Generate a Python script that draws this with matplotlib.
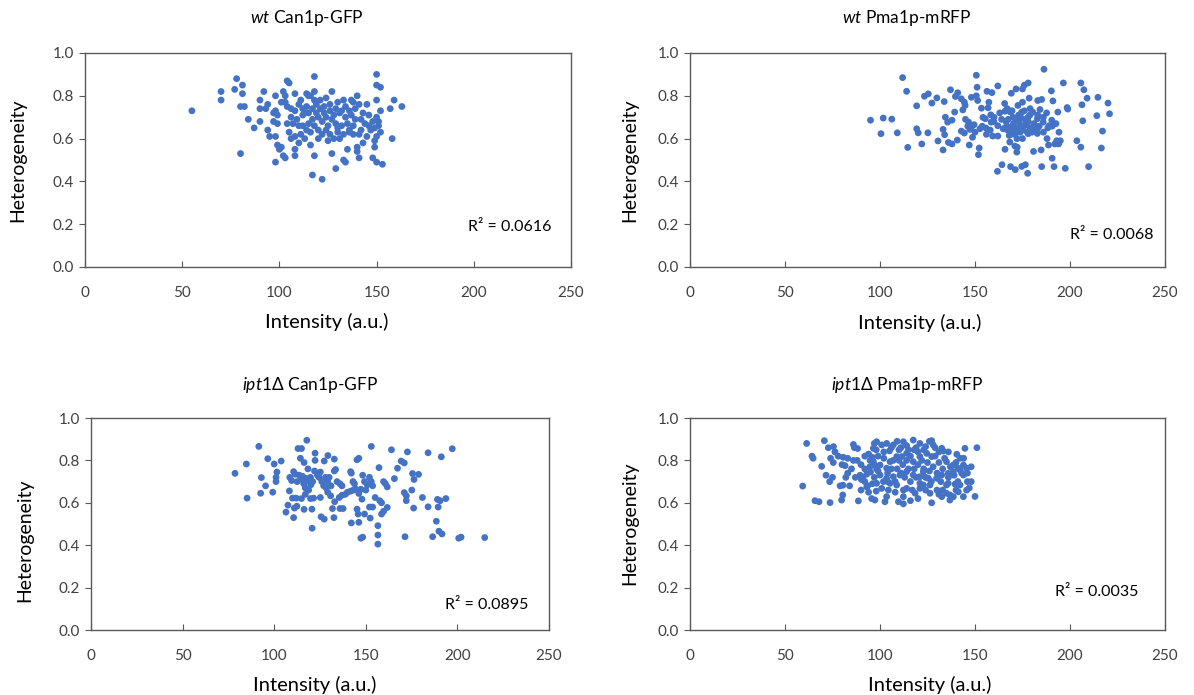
import numpy as np
import matplotlib
matplotlib.use("Agg")
import matplotlib.pyplot as plt

plt.rcParams["font.family"] = ["Lato", "DejaVu Sans"]
plt.rcParams["mathtext.fontset"] = "custom"
plt.rcParams["mathtext.rm"] = "Lato"
plt.rcParams["mathtext.it"] = "Lato:italic"

# (intensity, heterogeneity) per cell
wt_can1 = np.array([
    [55, 0.73], [70, 0.82], [70, 0.78], [78, 0.88], [77, 0.83], [81, 0.85], [81, 0.81],
    [80, 0.75], [82, 0.75], [80, 0.53], [84, 0.69], [87, 0.65], [90, 0.68], [90, 0.78],
    [92, 0.82], [90, 0.74], [93, 0.74], [94, 0.76], [94, 0.64], [95, 0.61], [98, 0.80],
    [98, 0.73], [97, 0.72], [99, 0.71], [97, 0.68], [99, 0.67], [98, 0.61], [99, 0.57],
    [101, 0.56], [100, 0.55], [98, 0.49], [102, 0.52], [103, 0.51], [108, 0.55], [108, 0.52],
    [104, 0.87], [105, 0.86], [102, 0.82], [103, 0.80], [101, 0.77], [103, 0.77], [108, 0.81],
    [111, 0.78], [104, 0.75], [106, 0.74], [108, 0.73], [110, 0.76], [112, 0.74], [114, 0.75],
    [113, 0.72], [104, 0.67], [107, 0.67], [110, 0.66], [112, 0.66], [115, 0.67], [105, 0.63],
    [108, 0.61], [111, 0.62], [113, 0.60], [116, 0.63], [115, 0.80],
    [118, 0.89], [150, 0.90], [150, 0.85], [152, 0.84], [114, 0.81], [116, 0.80], [118, 0.82],
    [127, 0.82], [130, 0.77], [133, 0.78], [137, 0.78], [140, 0.80], [141, 0.76], [138, 0.77],
    [145, 0.76], [143, 0.72], [146, 0.71], [150, 0.70], [150, 0.78], [159, 0.78], [157, 0.74],
    [163, 0.75], [117, 0.74], [119, 0.72], [120, 0.70], [121, 0.74], [122, 0.68], [123, 0.72],
    [124, 0.70], [125, 0.66], [126, 0.73], [127, 0.69], [128, 0.71], [129, 0.67], [130, 0.65],
    [131, 0.72], [118, 0.66], [120, 0.64], [122, 0.62], [124, 0.64], [126, 0.62], [128, 0.60],
    [130, 0.63], [132, 0.66], [117, 0.69], [119, 0.76], [123, 0.75], [126, 0.76], [129, 0.74],
    [132, 0.73], [134, 0.70], [135, 0.67], [136, 0.64], [137, 0.71], [139, 0.69], [148, 0.68],
    [151, 0.68], [149, 0.65], [136, 0.63], [138, 0.62], [141, 0.62], [142, 0.64], [145, 0.61],
    [149, 0.59], [150, 0.61], [158, 0.60], [143, 0.58], [135, 0.55], [140, 0.54], [140, 0.56],
    [149, 0.56], [116, 0.57], [127, 0.53], [118, 0.52], [141, 0.51], [148, 0.51], [150, 0.49],
    [153, 0.48], [133, 0.50], [134, 0.49], [129, 0.46], [117, 0.43], [122, 0.41],
    [106, 0.70], [109, 0.69], [112, 0.71], [115, 0.72], [118, 0.78], [121, 0.78], [124, 0.79],
    [134, 0.75], [136, 0.73], [139, 0.74], [142, 0.69], [144, 0.67], [146, 0.66], [147, 0.64],
    [138, 0.66], [133, 0.62], [131, 0.60], [125, 0.59], [120, 0.60], [114, 0.64], [110, 0.58],
    [106, 0.60], [152, 0.73], [151, 0.66], [152, 0.63],
])

wt_pma1 = np.array([
    [95.0, 0.686], [100.5, 0.623], [101.7, 0.696], [106.2, 0.691], [109.1, 0.627], [111.9, 0.885],
    [114.0, 0.821], [114.6, 0.559], [119.3, 0.753], [119.3, 0.646], [120.1, 0.627], [122.0, 0.575],
    [123.4, 0.798], [125.4, 0.809], [125.2, 0.627], [127.3, 0.766], [129.9, 0.790], [130.5, 0.589],
    [133.8, 0.773], [133.2, 0.643], [134.0, 0.618], [133.2, 0.547], [134.4, 0.700], [135.6, 0.677],
    [137.1, 0.828], [136.0, 0.582], [137.9, 0.686], [137.9, 0.575], [139.7, 0.797], [140.9, 0.814],
    [139.3, 0.724], [140.7, 0.593], [142.8, 0.786], [144.4, 0.770], [143.6, 0.734], [144.8, 0.755],
    [142.8, 0.635], [144.4, 0.626], [146.2, 0.658], [147.3, 0.643], [146.6, 0.677], [147.0, 0.570],
    [148.3, 0.657], [149.5, 0.665], [148.1, 0.793], [148.7, 0.606], [150.7, 0.896], [151.1, 0.840],
    [150.7, 0.800], [151.4, 0.778], [151.8, 0.525], [152.2, 0.556], [152.6, 0.646], [153.8, 0.658],
    [153.4, 0.742], [154.2, 0.699], [155.4, 0.693], [155.8, 0.649], [156.3, 0.821], [156.9, 0.744],
    [157.3, 0.770], [158.3, 0.711], [158.5, 0.677], [158.9, 0.815], [159.3, 0.612], [159.9, 0.680],
    [162.0, 0.846], [162.0, 0.612], [161.8, 0.447], [164.2, 0.478], [164.8, 0.646], [165.6, 0.764],
    [165.8, 0.728], [165.8, 0.550], [166.3, 0.680], [166.7, 0.660], [167.1, 0.640], [168.0, 0.615],
    [168.3, 0.584], [169.1, 0.812], [168.7, 0.469], [169.5, 0.730], [170.0, 0.700], [170.3, 0.670],
    [170.6, 0.640], [171.0, 0.565], [171.2, 0.455], [171.6, 0.832], [172.0, 0.537], [172.2, 0.560],
    [172.1, 0.600], [172.6, 0.755], [173.0, 0.710], [173.4, 0.680], [173.9, 0.660], [173.7, 0.630],
    [174.6, 0.724], [175.0, 0.770], [175.0, 0.832], [176.0, 0.850], [178.0, 0.860], [175.0, 0.640],
    [176.0, 0.660], [177.0, 0.670], [174.6, 0.470], [176.5, 0.478], [177.7, 0.438], [177.9, 0.700],
    [178.9, 0.710], [178.5, 0.789], [178.0, 0.623], [180.0, 0.630], [181.4, 0.645], [182.4, 0.658],
    [180.4, 0.724], [180.8, 0.540], [182.8, 0.646], [183.8, 0.658], [182.8, 0.693], [183.0, 0.778],
    [185.1, 0.783], [182.8, 0.624], [184.2, 0.736], [184.8, 0.547], [185.1, 0.469], [186.3, 0.924],
    [185.9, 0.677], [187.7, 0.720], [188.3, 0.650], [187.9, 0.600], [188.7, 0.570], [190.2, 0.823],
    [190.4, 0.686], [190.6, 0.658], [190.6, 0.508], [191.0, 0.776], [191.6, 0.469], [192.6, 0.670],
    [193.6, 0.724], [192.0, 0.575], [193.0, 0.590], [194.0, 0.575], [194.9, 0.590], [194.2, 0.630],
    [197.5, 0.461], [196.5, 0.860], [198.5, 0.745], [198.8, 0.738], [203.6, 0.590], [205.7, 0.860],
    [205.7, 0.560], [206.3, 0.758], [206.7, 0.683], [207.3, 0.828], [209.0, 0.789], [209.8, 0.469],
    [214.1, 0.707], [214.7, 0.793], [216.5, 0.556], [217.1, 0.635], [220.0, 0.766], [220.8, 0.716],
    [167.5, 0.690], [169.0, 0.655], [171.5, 0.690], [174.0, 0.700], [176.5, 0.690], [168.5, 0.725],
    [171.0, 0.620], [174.5, 0.650], [179.0, 0.650], [177.5, 0.630],
    [160.0, 0.700], [162.0, 0.660], [163.0, 0.720], [164.0, 0.690], [167.0, 0.740], [169.0, 0.620],
    [172.0, 0.650], [175.0, 0.600], [176.0, 0.730], [178.0, 0.680], [179.0, 0.740], [181.0, 0.670],
    [183.0, 0.710], [186.0, 0.630], [186.0, 0.700], [189.0, 0.660], [158.0, 0.640], [156.0, 0.620],
    [150.0, 0.630], [145.0, 0.690],
])

ipt1_can1 = np.array([
    [78.6, 0.739], [84.8, 0.783], [85.2, 0.622], [91.6, 0.866], [93.0, 0.719], [92.6, 0.645],
    [95.3, 0.680], [96.5, 0.808], [99.2, 0.650], [100.0, 0.783], [101.0, 0.700], [101.0, 0.720],
    [101.5, 0.745], [103.8, 0.797], [106.4, 0.556], [107.5, 0.589], [108.3, 0.656], [108.5, 0.720],
    [109.5, 0.705], [110.6, 0.747], [110.0, 0.622], [112.0, 0.622], [110.6, 0.530], [111.0, 0.575],
    [112.4, 0.584], [113.0, 0.856], [114.9, 0.856], [114.3, 0.810], [116.3, 0.790], [113.7, 0.730],
    [114.9, 0.710], [116.1, 0.690], [117.0, 0.670], [114.9, 0.620], [117.0, 0.640], [116.3, 0.569],
    [117.8, 0.895], [118.4, 0.760], [119.2, 0.700], [118.8, 0.660], [119.8, 0.720], [119.8, 0.620],
    [120.6, 0.570], [121.5, 0.622], [120.7, 0.480], [122.3, 0.834], [122.3, 0.800], [122.0, 0.750],
    [123.6, 0.730], [125.2, 0.745], [126.0, 0.700], [125.2, 0.625], [125.6, 0.534], [127.3, 0.523],
    [127.3, 0.797], [128.0, 0.720], [129.2, 0.700], [128.4, 0.670], [129.2, 0.650], [129.3, 0.823],
    [130.8, 0.633], [131.8, 0.573], [132.6, 0.530], [132.8, 0.806], [132.8, 0.750], [133.5, 0.757],
    [133.0, 0.605], [134.3, 0.700], [135.9, 0.690], [137.0, 0.680], [135.5, 0.625], [137.0, 0.636],
    [135.9, 0.573], [137.6, 0.573], [138.8, 0.640], [140.0, 0.650], [141.7, 0.655], [143.2, 0.660],
    [144.6, 0.664], [141.7, 0.747], [142.1, 0.740], [142.1, 0.505], [143.0, 0.700], [143.8, 0.690],
    [145.2, 0.803], [146.2, 0.810], [145.2, 0.570], [145.8, 0.547], [146.2, 0.644], [147.3, 0.664],
    [146.2, 0.508], [147.3, 0.433], [148.3, 0.438], [147.9, 0.617], [148.3, 0.730], [149.3, 0.700],
    [150.0, 0.660], [150.8, 0.685], [149.3, 0.547], [152.0, 0.720], [153.0, 0.700], [153.7, 0.680],
    [152.4, 0.528], [153.0, 0.866], [152.0, 0.580], [153.7, 0.580], [155.1, 0.625], [156.6, 0.492],
    [156.6, 0.448], [156.6, 0.405], [157.2, 0.766], [157.6, 0.610], [158.6, 0.600], [158.6, 0.547],
    [159.7, 0.560], [159.7, 0.700], [160.7, 0.690], [161.7, 0.675], [161.7, 0.578], [164.0, 0.850],
    [165.6, 0.714], [167.3, 0.763], [169.3, 0.797], [171.0, 0.788], [171.0, 0.648], [172.1, 0.633],
    [172.1, 0.610], [171.4, 0.440], [172.7, 0.840], [175.1, 0.660], [175.5, 0.738], [176.3, 0.710],
    [176.1, 0.575], [178.8, 0.734], [180.9, 0.625], [184.0, 0.836], [184.0, 0.581], [186.5, 0.440],
    [188.5, 0.513], [189.1, 0.616], [189.5, 0.580], [189.9, 0.466], [191.2, 0.817], [191.6, 0.453],
    [193.7, 0.620], [197.2, 0.855], [200.7, 0.433], [202.0, 0.438], [214.9, 0.436], [190.6, 0.610],
    [111.5, 0.735], [112.5, 0.700], [115.5, 0.725], [117.5, 0.715], [120.0, 0.685], [121.0, 0.700],
    [124.5, 0.720], [127.0, 0.680], [130.0, 0.720], [131.0, 0.680],
])

ipt1_pma1 = np.array([
    [61.4, 0.880], [70.7, 0.893], [59.3, 0.679], [64.2, 0.820], [64.8, 0.810], [69.3, 0.772],
    [72.8, 0.860], [75.5, 0.865], [76.3, 0.840], [74.0, 0.810], [75.4, 0.790], [71.6, 0.730],
    [73.5, 0.700], [75.0, 0.720], [65.8, 0.610], [67.9, 0.605], [73.7, 0.601], [79.8, 0.613],
    [79.0, 0.680], [80.5, 0.683], [80.4, 0.637], [78.0, 0.820], [80.6, 0.815], [83.0, 0.810],
    [80.0, 0.780], [81.6, 0.775], [86.0, 0.875], [86.5, 0.860], [88.2, 0.856], [88.6, 0.609],
    [89.5, 0.730], [91.0, 0.720], [90.2, 0.710], [92.0, 0.820], [94.0, 0.830], [94.8, 0.800],
    [96.0, 0.815], [92.0, 0.700], [93.5, 0.680], [93.0, 0.675], [95.6, 0.620], [94.7, 0.770],
    [97.0, 0.780], [98.2, 0.760], [97.0, 0.880], [98.0, 0.850],
    [98.2, 0.888], [100.9, 0.873], [96.5, 0.857], [107.0, 0.873], [112.3, 0.888], [117.5, 0.896],
    [127.2, 0.893], [128.0, 0.873], [132.5, 0.857], [133.3, 0.844], [140.4, 0.829], [142.1, 0.810],
    [144.7, 0.857],
    [96.5, 0.794], [100.0, 0.778], [103.5, 0.763], [105.3, 0.794], [108.8, 0.818], [111.4, 0.818],
    [114.0, 0.833], [117.5, 0.794], [121.0, 0.818], [124.6, 0.833], [127.2, 0.818],
    [135.0, 0.794], [138.6, 0.778], [141.2, 0.763], [143.9, 0.778], [145.6, 0.763],
    [100.0, 0.731], [103.5, 0.716], [107.0, 0.723], [110.5, 0.731], [114.0, 0.747], [117.5, 0.731],
    [121.0, 0.723], [122.8, 0.747], [125.4, 0.716],
    [129.8, 0.716], [132.5, 0.731], [135.9, 0.739], [138.6, 0.747], [142.1, 0.755], [143.9, 0.731],
    [98.2, 0.692], [101.8, 0.700], [105.3, 0.692], [108.8, 0.684],
    [121.0, 0.692], [122.8, 0.684], [126.3, 0.684],
    [135.0, 0.684], [135.9, 0.692], [139.5, 0.688], [142.1, 0.684],
    [100.9, 0.668], [104.4, 0.660], [112.3, 0.660], [114.0, 0.668], [121.0, 0.668],
    [103.5, 0.629], [112.3, 0.629], [118.5, 0.645], [126.3, 0.645], [135.0, 0.645], [138.6, 0.629],
    [141.2, 0.652], [145.6, 0.660], [132.5, 0.629], [136.8, 0.637], [143.9, 0.629],
    [97.3, 0.613], [102.6, 0.605], [109.7, 0.605], [127.2, 0.600], [136.8, 0.613], [112.3, 0.595],
    [151.0, 0.860], [150.0, 0.630], [148.0, 0.700], [147.0, 0.670], [146.0, 0.740], [148.0, 0.770],
    [88.0, 0.800], [90.0, 0.780], [92.0, 0.760], [95.0, 0.745], [97.0, 0.720], [93.0, 0.735],
    [96.0, 0.690], [98.0, 0.655], [94.0, 0.650], [90.0, 0.660], [87.0, 0.720],
    [103.5, 0.880], [109.0, 0.890], [114.0, 0.870], [119.0, 0.860], [121.0, 0.880], [124.0, 0.865],
    [126.0, 0.890], [118.0, 0.850], [110.0, 0.850], [105.0, 0.845],
    [99.0, 0.750], [102.0, 0.810], [104.0, 0.740], [106.0, 0.760], [107.0, 0.800], [108.0, 0.700],
    [109.0, 0.760], [110.0, 0.800], [111.0, 0.740], [112.0, 0.780], [113.0, 0.720], [114.0, 0.800],
    [115.0, 0.760], [116.0, 0.700], [116.0, 0.820], [118.0, 0.760], [119.0, 0.720], [120.0, 0.780],
    [120.0, 0.840], [122.0, 0.800], [123.0, 0.760], [124.0, 0.720], [125.0, 0.790], [126.0, 0.750],
    [127.0, 0.700], [128.0, 0.770], [129.0, 0.820], [130.0, 0.740], [131.0, 0.790], [132.0, 0.700],
    [133.0, 0.760], [134.0, 0.810], [136.0, 0.720], [137.0, 0.770], [139.0, 0.730], [140.0, 0.790],
    [141.0, 0.700], [143.0, 0.740], [144.0, 0.810], [146.0, 0.700], [102.0, 0.840], [106.0, 0.860],
    [111.0, 0.860], [115.0, 0.850], [123.0, 0.850], [129.0, 0.860], [131.0, 0.840], [136.0, 0.840],
    [99.0, 0.820], [104.0, 0.700], [108.0, 0.650], [117.0, 0.660], [124.0, 0.660], [130.0, 0.660],
    [133.0, 0.660], [116.0, 0.610], [120.0, 0.620], [131.0, 0.640], [140.0, 0.660], [85.0, 0.760],
    [83.0, 0.740], [86.0, 0.800], [82.0, 0.720], [84.0, 0.680],
])

titles = [r"$\mathit{wt}$ Can1p-GFP", r"$\mathit{wt}$ Pma1p-mRFP",
          r"$\mathit{ipt1}\Delta$ Can1p-GFP", r"$\mathit{ipt1}\Delta$ Pma1p-mRFP"]
r_squared = ["0.0616", "0.0068", "0.0895", "0.0035"]
x_ticks = [0, 50, 100, 150, 200, 250]
y_ticks = [0.0, 0.2, 0.4, 0.6, 0.8, 1.0]

W, H = 1194, 695
fig = plt.figure(figsize=(W / 100, H / 100), dpi=100)


def fx(x):
    return x / W


def fy(y):
    return 1 - y / H


# panel layout in pixels: (left, right, top, bottom)
boxes = [(85, 571, 53, 267), (690, 1165, 53, 267), (91, 549, 418, 630), (690, 1165, 418, 630)]
title_pos = [(307, 18), (907, 18), (310, 385), (907, 385)]
ylabel_pos = [(18, 160), (630, 160), (25, 540), (630, 523)]
xlabel_pos = [(327, 322), (920, 323), (315, 685), (930, 685)]
r2_pos = [(510, 227), (1112, 235), (487, 605), (1097, 592)]
datasets = [wt_can1, wt_pma1, ipt1_can1, ipt1_pma1]

blue = "#4472C4"
frame = "#595959"

for i, data in enumerate(datasets):
    l, r, t, b = boxes[i]
    ax = fig.add_axes([fx(l), fy(b), (r - l) / W, (b - t) / H])
    ax.scatter(data[:, 0], data[:, 1], s=24, color=blue, edgecolors="none", zorder=3)
    ax.set_xlim(0, 250)
    ax.set_ylim(0, 1.0)
    ax.set_xticks(x_ticks)
    ax.set_yticks(y_ticks)
    ax.set_yticklabels([f"{v:.1f}" for v in y_ticks])
    for s in ax.spines.values():
        s.set_color(frame)
        s.set_linewidth(1.0)
    ax.tick_params(axis="x", direction="in", length=4, color=frame, labelsize=11,
                   pad=14, labelcolor="#404040")
    ax.tick_params(axis="y", direction="out", length=4, color=frame, labelsize=11,
                   pad=4, labelcolor="#404040")
    ax.tick_params(top=False, right=False)

    fig.text(fx(title_pos[i][0]), fy(title_pos[i][1]), titles[i], ha="center", va="center",
             fontsize=12.5, color="#000000")
    fig.text(fx(ylabel_pos[i][0]), fy(ylabel_pos[i][1]), "Heterogeneity", ha="center",
             va="center", rotation=90, fontsize=14, color="#000000")
    fig.text(fx(xlabel_pos[i][0]), fy(xlabel_pos[i][1]), "Intensity (a.u.)", ha="center",
             va="center", fontsize=14.5, color="#000000")
    fig.text(fx(r2_pos[i][0]), fy(r2_pos[i][1]), f"R² = {r_squared[i]}", ha="center",
             va="center", fontsize=11.5, color="#000000")

fig.savefig("out.png", dpi=100, facecolor="white")
